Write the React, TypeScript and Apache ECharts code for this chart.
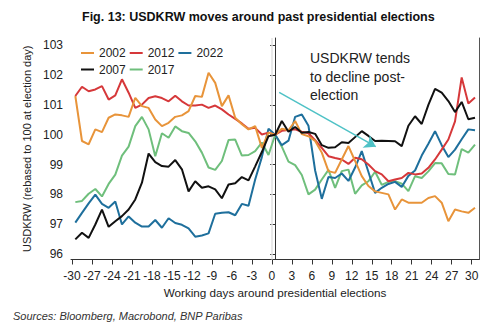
import React, { useEffect, useRef } from "react";
import * as echarts from "echarts";

const FONT = "'Liberation Sans', Arial, Helvetica, sans-serif";

const TITLE = "Fig. 13: USDKRW moves around past presidential elections";
const Y_NAME = "USDKRW (rebased to 100 at election day)";
const X_NAME = "Working days around presidential elections";
const SOURCE = "Sources: Bloomberg, Macrobond, BNP Paribas";
const NOTE = "USDKRW tends\nto decline post-\nelection";

// working days around election day
const DAYS = [
  -30, -29, -28, -27, -26, -25, -24, -23, -22, -21, -20, -19, -18, -17, -16, -15,
  -14, -13, -12, -11, -10, -9, -8, -7, -6, -5, -4, -3, -2, -1, 0, 1, 2, 3, 4, 5, 6,
  7, 8, 9, 10, 11, 12, 13, 14, 15, 16, 17, 18, 19, 20, 21, 22, 23, 24, 25, 26, 27,
  28, 29, 30,
];

const X_TICKS = [-30, -27, -24, -21, -18, -15, -12, -9, -6, -3, 0, 3, 6, 9, 12, 15, 18, 21, 24, 27, 30];
const Y_TICKS = [96, 97, 98, 99, 100, 101, 102, 103];
// ticks mark the start of each working day, points sit mid-day
const TICK_OFFSET = 0.5;

const Y2002 = [
  101.3, 99.79, 99.68, 100.18, 100.09, 100.57, 100.68, 100.65, 100.6, 101.24, 100.96,
  100.9, 100.51, 100.29, 100.4, 100.6, 100.65, 100.79, 101.3, 101.27, 102.08, 101.74,
  100.96, 101.32, 100.57, 100.35, 100.18, 100.29, 99.56, 100.07, 100.0,
  100.2, 100.15, 100.46, 100.02, 99.95, 99.79, 99.4, 98.78, 98.72, 99.17, 99.62, 99.12,
  98.61, 98.28, 98.1, 98.05, 98.0, 97.49, 97.83, 97.72, 97.72, 97.72, 97.88, 97.94,
  97.72, 97.1, 97.49, 97.43, 97.38, 97.55,
];
const Y2012 = [
  101.3, 101.61, 101.46, 101.52, 101.63, 101.18, 101.32, 101.86, 101.41, 100.9, 101.01,
  101.23, 101.29, 101.23, 101.12, 101.31, 101.12, 100.98, 100.98, 101.01, 100.9, 100.98,
  100.85, 100.68, 100.53, 100.38, 100.2, 100.23, 100.01, 100.07, 100.0,
  100.13, 100.16, 100.18, 100.1, 100.05, 99.82, 99.56, 99.28, 99.22, 99.17, 99.02, 99.23,
  99.18, 99.0, 98.78, 98.67, 98.44, 98.5, 98.55, 98.72, 98.67, 98.7, 98.89, 99.17,
  99.5, 99.84, 100.45, 101.92, 101.05, 101.25,
];
const Y2022 = [
  97.05, 97.38, 97.7, 97.99, 97.68, 97.55, 97.76, 96.99, 97.26, 97.05, 96.92, 96.92,
  97.14, 96.88, 97.2, 97.04, 96.98, 96.86, 96.58, 96.62, 96.69, 97.35, 97.38, 97.4,
  97.3, 97.68, 97.62, 98.5, 99.25, 100.2, 100.0,
  99.65, 99.8, 100.6, 100.68, 100.3, 98.8, 97.85, 98.58, 98.55, 98.7, 98.45, 98.9, 99.45,
  98.75, 98.05, 98.22, 98.35, 98.42, 98.25, 98.62, 98.8, 99.3, 99.7, 100.12, 99.65,
  99.25, 99.5, 99.85, 100.18, 100.15,
];
const Y2007 = [
  96.49, 96.71, 96.54, 96.99, 97.49, 96.91, 97.1, 97.27, 97.49, 97.83, 98.39, 99.37,
  99.08, 98.95, 98.93, 99.15, 98.84, 98.1, 98.44, 98.22, 98.27, 98.17, 97.87, 98.33,
  98.37, 98.58, 98.47, 98.94, 99.42, 99.95, 100.0,
  100.46, 100.1, 100.26, 100.07, 100.09, 100.03, 99.65, 99.56, 99.58, 99.75, 99.72,
  99.92, 100.12, 99.96, 99.79, 99.8, 99.79, 99.78, 99.62, 100.3, 100.62, 100.36, 101.0,
  101.54, 101.41, 101.13, 100.76, 101.1, 100.52, 100.57,
];
const Y2017 = [
  97.74, 97.78, 98.02, 98.18, 97.93, 98.35, 98.66, 99.3, 99.6, 100.29, 100.6, 100.18,
  99.28, 100.05, 99.9, 100.28, 100.12, 100.06, 99.78, 99.4, 98.9, 98.82, 99.12, 99.82,
  99.84, 99.3, 99.32, 99.45, 99.74, 99.32, 100.0,
  99.6, 99.1, 98.98, 98.65, 98.0, 98.16, 98.5, 98.82, 98.22, 98.78, 98.83, 98.02, 98.3,
  98.44, 98.76, 98.32, 98.42, 98.44, 98.36, 98.11, 98.61, 98.55, 98.77, 99.05, 99.04,
  98.68, 98.67, 99.52, 99.4, 99.67,
];

// arrow annotation: [day, value] start and end
const ARROW_FROM = [0.6, 101.42];
const ARROW_TO = [15.1, 99.6];

const COLORS: Record<string, string> = {
  "2002": "#E8943A",
  "2012": "#D6383A",
  "2022": "#1E6F9C",
  "2007": "#111111",
  "2017": "#6FBF7C",
};

const SERIES: [string, number[]][] = [
  ["2017", Y2017],
  ["2022", Y2022],
  ["2012", Y2012],
  ["2002", Y2002],
  ["2007", Y2007],
];

export default function App() {
  const ref = useRef<HTMLDivElement>(null);
  useEffect(() => {
    if (!ref.current) return;
    const chart = echarts.init(ref.current, undefined, { renderer: "svg" });
    const tickPos = X_TICKS.map((t) => t - TICK_OFFSET);
    const series: any[] = SERIES.map(([name, vals]) => ({
      name,
      type: "line",
      data: DAYS.map((d, i) => [d, vals[i]]),
      symbol: "none",
      color: COLORS[name],
      itemStyle: { color: COLORS[name] },
      lineStyle: { width: 2, color: COLORS[name] },
      z: 3,
    }));
    // election-day reference line and arrow annotation
    series[0].markLine = {
      silent: true,
      symbol: "none",
      label: { show: false },
      lineStyle: { color: "#e2e2e2", width: 1.5, type: "solid" },
      data: [{ xAxis: 0 - TICK_OFFSET }],
      z: 1,
    };
    series[1].markLine = {
      silent: true,
      symbol: ["none", "arrow"],
      symbolSize: 11,
      label: { show: false },
      lineStyle: { color: "#4FC2C6", width: 1.5, type: "solid" },
      data: [[{ coord: ARROW_FROM }, { coord: ARROW_TO }]],
    };
    const legendCommon = {
      left: 76,
      orient: "horizontal",
      icon: "rect",
      itemWidth: 13,
      itemHeight: 2,
      itemGap: 4,
      textStyle: { fontSize: 12, color: "#222", fontFamily: FONT },
    };
    chart.setOption({
      animation: false,
      textStyle: { fontFamily: FONT },
      title: {
        text: TITLE,
        left: 82,
        top: 10,
        padding: 0,
        textStyle: { fontSize: 12.5, fontWeight: "bold", color: "#111", fontFamily: FONT },
      },
      grid: { left: 71, right: 21, top: 38, bottom: 66.5, containLabel: false, outerBoundsMode: "none" },
      legend: [
        { ...legendCommon, top: 42, data: ["2002", "2012", "2022"] },
        { ...legendCommon, top: 58.5, data: ["2007", "2017"] },
      ],
      xAxis: {
        type: "value",
        min: -30.65,
        max: 30.6,
        name: X_NAME,
        nameLocation: "middle",
        nameGap: 24,
        nameTextStyle: { fontSize: 11.7, color: "#222", fontFamily: FONT },
        axisLine: { onZero: false, lineStyle: { color: "#333", width: 1 } },
        axisTick: { show: true, length: 5, customValues: tickPos, lineStyle: { color: "#333" } },
        axisLabel: {
          customValues: tickPos,
          formatter: (v: number) => String(Math.round(v + TICK_OFFSET)),
          fontSize: 12,
          color: "#222",
          margin: 10,
          fontFamily: FONT,
        },
        splitLine: { show: false },
      },
      yAxis: [
        {
          type: "value",
          min: 95.815,
          max: 103.245,
          position: "left",
          name: Y_NAME,
          nameLocation: "middle",
          nameGap: 38,
          nameTextStyle: { fontSize: 11, color: "#222", fontFamily: FONT },
          axisLine: { show: true, lineStyle: { color: "#333", width: 1 } },
          axisTick: { show: true, length: 5, customValues: Y_TICKS, lineStyle: { color: "#333" } },
          axisLabel: { customValues: Y_TICKS, fontSize: 12, color: "#222", margin: 8, fontFamily: FONT },
          splitLine: { show: false },
        },
        {
          type: "value",
          min: 95.815,
          max: 103.245,
          position: "right",
          axisLine: { show: true, lineStyle: { color: "#555", width: 1 } },
          axisTick: { show: false },
          axisLabel: { show: false },
          splitLine: { show: false },
        },
      ],
      series,
      graphic: [
        {
          type: "text",
          left: 310,
          top: 49,
          style: {
            text: NOTE,
            fontSize: 14,
            lineHeight: 18.5,
            fill: "#222",
            fontFamily: FONT,
          },
        },
        {
          type: "text",
          left: 13,
          top: 310.5,
          style: {
            text: SOURCE,
            fontSize: 11,
            fontStyle: "italic",
            fill: "#333",
            fontFamily: FONT,
          },
        },
      ],
    });
    return () => chart.dispose();
  }, []);
  return (
    <div
      ref={ref}
      style={{ position: "fixed", left: 0, top: 0, width: 500, height: 326, background: "#fff" }}
    />
  );
}
